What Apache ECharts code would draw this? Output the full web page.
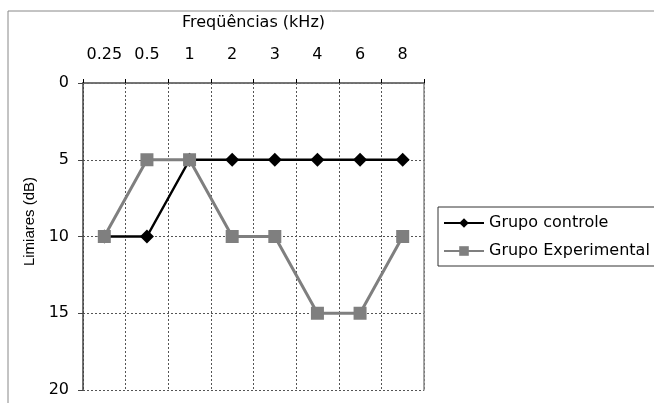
<!DOCTYPE html>
<html><head><meta charset="utf-8">
<script src="https://cdn.jsdelivr.net/npm/echarts@6/dist/echarts.min.js"></script>
<style>html,body{margin:0;padding:0;background:#fff}#c{width:654px;height:403px}</style>
</head><body><div id="c"></div>
<script>
var categories = ['0.25','0.5','1','2','3','4','6','8'];
var controle = [10,10,5,5,5,5,5,5];
var experimental = [10,5,5,10,10,15,15,10];
var yTicks = [0,5,10,15,20];

var chart = echarts.init(document.getElementById('c'));
var font = 'DejaVu Sans, Liberation Sans, sans-serif';
var fontName = 'Liberation Sans, Arial, sans-serif';
var fs = 16;
chart.setOption({
  animation:false,
  backgroundColor:'#fff',
  textStyle:{fontFamily:font},
  graphic:[{type:'rect',shape:{x:8,y:11,width:700,height:500},style:{fill:'none',stroke:'#888',lineWidth:1},z:-10}],
  grid:{left:83,top:83,right:230,bottom:13},
  legend:{left:438,top:207,orient:'vertical',itemWidth:40,itemHeight:12,itemGap:12,
    padding:[8,8,7,5],borderColor:'#333',borderWidth:1,
    textStyle:{fontSize:fs,color:'#000',fontFamily:font},
    data:['Grupo controle','Grupo Experimental']},
  xAxis:[{type:'category',position:'top',data:categories,boundaryGap:true,
    name:'Freqüências (kHz)',nameLocation:'middle',nameGap:52,
    nameTextStyle:{fontSize:fs,color:'#000',fontFamily:font},
    axisLine:{lineStyle:{color:'#000',width:1.5}},
    axisTick:{show:true,interval:0,length:4,lineStyle:{color:'#000'}},
    axisLabel:{interval:0,fontSize:fs,color:'#000',margin:20,fontFamily:font},
    splitLine:{show:true,interval:0,lineStyle:{color:'#555',type:[2,2],width:1}}},
   {type:'category',position:'bottom',data:categories,boundaryGap:true,
    axisLine:{lineStyle:{color:'#888',width:1.5}},axisTick:{show:false},axisLabel:{show:false},splitLine:{show:false}}],
  yAxis:[{type:'value',inverse:true,min:yTicks[0],max:yTicks[yTicks.length-1],interval:5,
    name:'Limiares (dB)',nameLocation:'middle',nameGap:46,nameRotate:90,
    nameTextStyle:{fontSize:15,color:'#000',fontFamily:fontName,padding:[0,0,0,30]},
    axisLine:{show:true,lineStyle:{color:'#444',width:1.5}},
    axisTick:{show:true,length:5,lineStyle:{color:'#444'}},
    axisLabel:{fontSize:fs,color:'#000',margin:14,fontFamily:font},
    splitLine:{show:true,lineStyle:{color:'#555',type:[2,2],width:1}}},
   {type:'value',position:'right',inverse:true,min:0,max:20,interval:5,
    axisLine:{show:true,lineStyle:{color:'#888',width:1.5}},axisTick:{show:false},axisLabel:{show:false},splitLine:{show:false}}],
  series:[
    {name:'Grupo controle',type:'line',data:controle,symbol:'diamond',symbolSize:14,
     itemStyle:{color:'#000'},lineStyle:{color:'#000',width:2.5},z:3},
    {name:'Grupo Experimental',type:'line',data:experimental,symbol:'rect',symbolSize:13,
     itemStyle:{color:'#7f7f7f'},lineStyle:{color:'#7f7f7f',width:3},z:4}
  ]
});
</script></body></html>
